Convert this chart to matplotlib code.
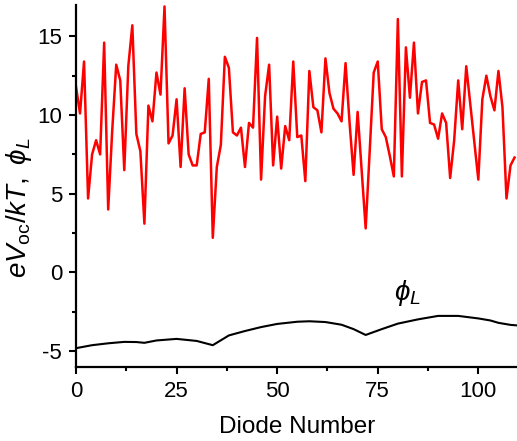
import numpy as np
import matplotlib
matplotlib.use("Agg")
import matplotlib.pyplot as plt
from matplotlib.ticker import MultipleLocator

plt.rcParams['font.family'] = ['Liberation Sans', 'DejaVu Sans']
plt.rcParams['mathtext.fontset'] = 'custom'
plt.rcParams['mathtext.rm'] = 'Liberation Sans'
plt.rcParams['mathtext.it'] = 'Liberation Sans:italic'
plt.rcParams['axes.unicode_minus'] = False

# eVoc/kT per diode (red)
voc = [11.8, 10.1, 13.4, 4.7, 7.5, 8.4, 7.5, 14.6, 4.0, 9.0,
       13.2, 12.2, 6.5, 13.1, 15.7, 8.8, 7.7, 3.1, 10.6, 9.6,
       12.7, 11.3, 16.9, 8.2, 8.7, 11.0, 6.7, 11.7, 7.5, 6.8,
       6.8, 8.8, 8.9, 12.3, 2.2, 6.7, 8.1, 13.7, 13.0, 8.9,
       8.7, 9.2, 6.7, 9.5, 9.2, 14.9, 5.9, 11.2, 13.2, 6.8,
       9.9, 6.6, 9.3, 8.4, 13.4, 8.6, 8.7, 5.8, 12.8, 10.5,
       10.3, 8.9, 13.6, 11.4, 10.4, 10.1, 9.6, 13.3, 9.5, 6.2,
       10.2, 6.5, 2.8, 7.7, 12.7, 13.4, 9.1, 8.6, 7.4, 6.1,
       16.1, 6.1, 14.3, 11.1, 14.6, 10.1, 12.1, 12.2, 9.5, 9.4,
       8.5, 10.1, 9.5, 6.0, 8.4, 12.2, 9.1, 13.1, 10.7, 8.3,
       5.9, 11.0, 12.5, 11.2, 10.3, 12.8, 10.5, 4.7, 6.8, 7.3]
diode = np.arange(len(voc))

# phi_L curve (black)
phi_x = [0, 4, 8, 12, 15, 17, 20, 25, 30, 34, 38, 42, 46, 50, 55, 58, 62, 66, 69, 72,
         76, 80, 85, 90, 95, 100, 103, 105, 108, 110]
phi_y = [-4.81, -4.62, -4.50, -4.41, -4.42, -4.47, -4.32, -4.22, -4.35, -4.62,
         -4.00, -3.72, -3.47, -3.27, -3.13, -3.10, -3.15, -3.32, -3.60, -3.97,
         -3.60, -3.25, -2.98, -2.76, -2.76, -2.92, -3.05, -3.20, -3.33, -3.37]

fig = plt.figure(figsize=(5.17, 4.41), dpi=100)
ax = fig.add_axes([0.147, 0.168, 0.856, 0.821])

ax.plot(diode, voc, c='#ff0000', lw=1.8)
ax.plot(phi_x, phi_y, c='k', lw=1.5)

ax.text(82.5, -1.3, r'$\phi_L$', fontsize=20, ha='center', va='center')

ax.set_xlim(0, 110)
ax.set_ylim(-6, 17)
ax.xaxis.set_major_locator(MultipleLocator(25))
ax.xaxis.set_minor_locator(MultipleLocator(12.5))
ax.yaxis.set_major_locator(MultipleLocator(5))
ax.yaxis.set_minor_locator(MultipleLocator(2.5))

for s in ['top', 'right']:
  ax.spines[s].set_visible(False)
for s in ['left', 'bottom']:
  ax.spines[s].set_linewidth(1.6)

ax.tick_params(which='major', length=5, width=1.5, labelsize=16, direction='out', pad=5)
ax.tick_params(which='minor', length=3, width=1.5, direction='out')

ax.set_xlabel('Diode Number', fontsize=17.5, labelpad=10)
ax.set_ylabel(r'$eV_{\rm oc}/kT,\ \phi_L$', fontsize=20, labelpad=2)
ax.yaxis.label.set_y(0.44)

fig.savefig('out.png', dpi=100)
